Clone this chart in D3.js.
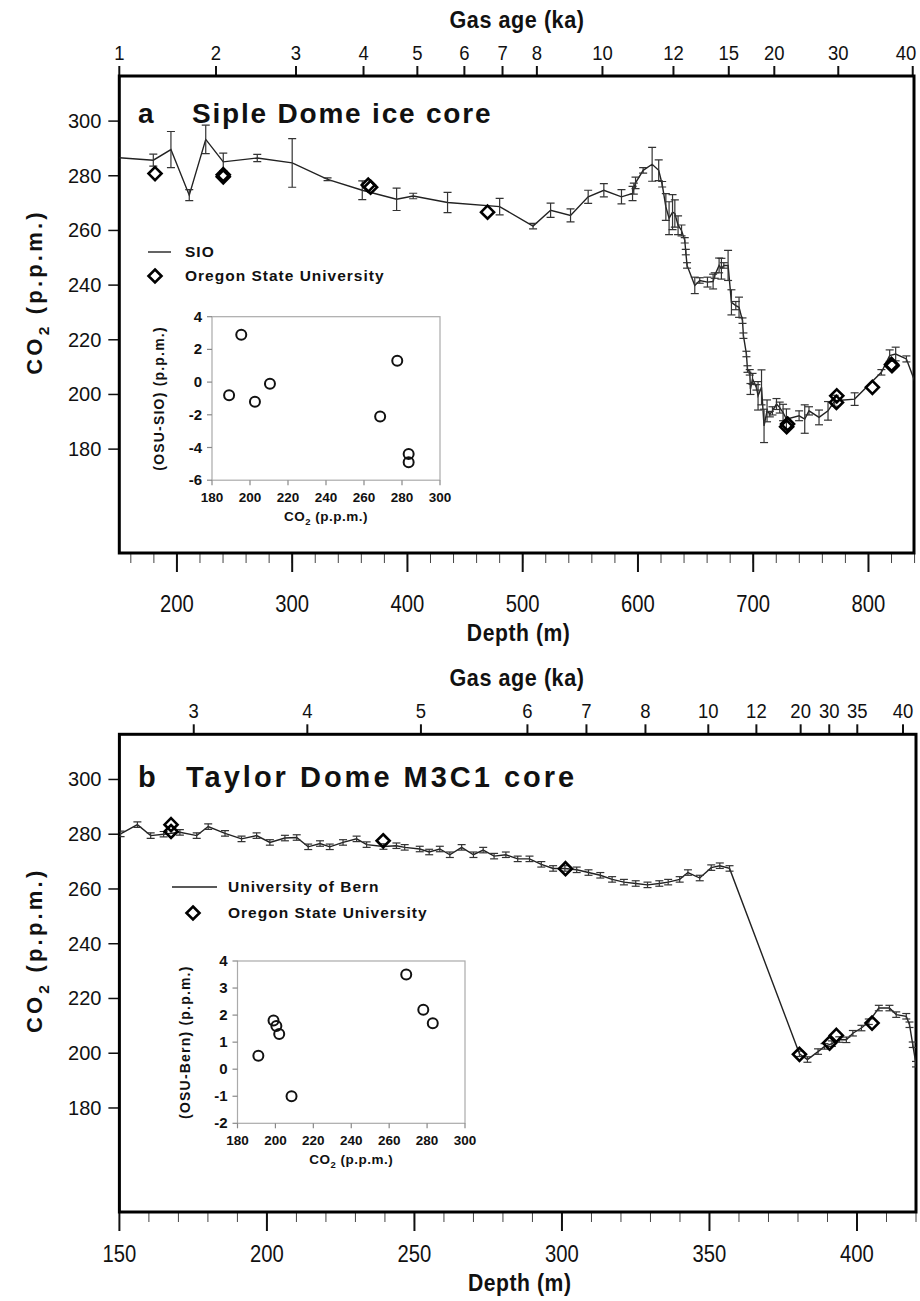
<!DOCTYPE html>
<html>
<head>
<meta charset="utf-8">
<script src="https://cdn.jsdelivr.net/npm/d3@7"></script>
<style>
  body { margin: 0; background: #fff; }
  svg text { font-family: "Liberation Sans", Arial, sans-serif; fill: #111; }
</style>
</head>
<body>
<svg id="fig" width="920" height="1301"></svg>
<script>
// CO2 ppm ticks shared by both panels
var co2Ticks = [180, 200, 220, 240, 260, 280, 300];

// ---- panel a : Siple Dome ----
var sipleDepthTicks = [200, 300, 400, 500, 600, 700, 800];
var sipleDepthMinor = d3.range(160, 841, 20);
var sipleAgeLabels = [1, 2, 3, 4, 5, 6, 7, 8, 10, 12, 15, 20, 30, 40];
var sipleAgeDepths = [150, 233.9, 303.3, 361.9, 408.6, 449.4, 482.5, 512.3, 569.2, 630.8, 678.8, 718.3, 773.8, 838.4];
// SIO record: depth (m), CO2 (ppm), error (ppm)
var sipleSio = [
  [150, 286.6, 0], [179.5, 285.7, 2.2], [194.8, 289.6, 6.6], [210.7, 272.9, 2], [225, 293.3, 5.2],
  [240.2, 285.1, 3.2], [269.7, 286.5, 1.3], [300, 284.7, 8.9], [330.7, 278.7, 0.5], [360.8, 274.7, 3.4],
  [390.6, 271.4, 4.1], [405, 272.6, 1], [434.8, 270.2, 3.7], [480, 268.7, 3], [509, 261.6, 1],
  [524.2, 267.4, 2.6], [541.5, 265.5, 2.4], [556.8, 272.3, 2.4], [570.4, 274.7, 2.4], [585.7, 272.3, 2.6],
  [595.3, 273.5, 2.6], [596.4, 275.3, 2], [597.9, 277.4, 2.1], [604.5, 282, 1], [612.3, 284.2, 6.2],
  [618, 282, 3.8], [621, 276.9, 1], [624.2, 268.6, 4.9], [627, 264.5, 6], [630, 266.7, 6.4],
  [632, 266.2, 5], [634.8, 261.9, 3.4], [637.8, 260, 2], [640.6, 256.4, 1], [641.5, 252.1, 1],
  [642.6, 247.2, 1], [649.3, 239.9, 3], [653.6, 241.7, 1], [660.3, 241.1, 1.8], [665.2, 241.3, 2.7],
  [666.6, 243.5, 1], [670.4, 247.2, 2.7], [672.4, 246, 3.8], [674.5, 247.2, 1], [678.2, 247.2, 5.5],
  [681.1, 233.7, 4.6], [684.9, 232.5, 1.5], [687.7, 231.9, 3.7], [690.7, 227, 1], [691.5, 221.5, 1],
  [694.1, 214.8, 1], [695, 209.3, 1.2], [697, 208.1, 1], [697.6, 202, 2], [699.4, 205.7, 2],
  [702.8, 202.6, 1], [704.2, 199.5, 5.2], [707.2, 202.6, 6.4], [709.4, 188.5, 6.1], [712, 194, 4],
  [714.4, 192.8, 1], [716.7, 194, 1.5], [720.2, 196.5, 2], [723, 195.2, 2], [725.9, 193.4, 3],
  [728.8, 191, 3.7], [739.8, 192.2, 1.8], [744.7, 191, 5.2], [748.4, 194, 1.5], [757.1, 191.6, 2.7],
  [764.9, 194, 3.4], [770.7, 197.7, 2], [788, 198.3, 2.3], [811.2, 208.1, 1], [818.4, 214.2, 2.1],
  [823.6, 214.8, 2.5], [832.9, 213, 1.1], [840, 205, 0]
];
// OSU measurements: depth, CO2
var sipleOsu = [
  [181, 280.8], [240.2, 280.4], [240.2, 279.6], [366, 276.6], [368, 275.8], [469.5, 266.7],
  [729, 188.2], [729.8, 189.2], [772.2, 197.1], [772.5, 199.5], [803.4, 202.6], [820.4, 210.5], [820, 211]
];
// inset: OSU-SIO difference vs CO2
var sipleDiffCo2 = [189, 195.4, 202.6, 210.5, 268.5, 277.5, 283.5, 283.5];
var sipleDiff = [-0.8, 2.9, -1.2, -0.1, -2.1, 1.3, -4.4, -4.9];

// ---- panel b : Taylor Dome ----
var taylorDepthTicks = [150, 200, 250, 300, 350, 400];
var taylorDepthMinor = d3.range(160, 421, 10);
var taylorAgeLabels = [3, 4, 5, 6, 7, 8, 10, 12, 20, 30, 35, 40];
var taylorAgeDepths = [175.2, 213.7, 252.2, 288.3, 308.3, 328.3, 349.6, 365.9, 380.9, 390.6, 400.1, 415.6];
// Bern record: depth, CO2 (error bars about 1 ppm)
var taylorBern = [
  [150.4, 280.1], [156.1, 283.5], [160.6, 279.5], [165, 280], [170.5, 280.7], [176.2, 279.5],
  [180.1, 282.8], [185.8, 280.3], [191.4, 278.3], [196.5, 279.5], [201, 277], [206.1, 278.6],
  [210.1, 278.8], [214, 275.4], [218, 276.6], [221.3, 275.4], [225.8, 277], [230.4, 278.3],
  [233.8, 276.2], [239.5, 275.5], [243.9, 275.8], [246.7, 275.2], [251.8, 274.6], [255, 273.5],
  [258.6, 274.6], [262, 272.5], [266, 275.2], [270, 272.5], [273.3, 274.2], [277, 272],
  [281, 272.5], [285, 271], [289, 271], [293, 269], [297, 267.5], [301, 267.5], [305, 267],
  [309, 266], [313, 265], [317, 263.5], [321, 262.5], [325, 262], [329, 261.5], [333, 262],
  [336, 262.5], [339.9, 263.5], [342.7, 266], [346.7, 264], [350.6, 267.8], [353.5, 268.5],
  [356.8, 267.5], [380.5, 199.8], [383.2, 197.7], [386.8, 200.6], [389, 202.5], [391.5, 203.5],
  [394, 205], [396.4, 204.9], [398.6, 207.3], [401.5, 209.2], [404, 211.5], [407.4, 216.5],
  [411, 216.5], [413.3, 214.1], [416.7, 213.5], [417.8, 210.4], [418.9, 203.1], [420, 196]
];
var taylorErr = 1;
var taylorOsu = [
  [167.5, 283.5], [167.5, 281], [239.4, 277.6], [301.2, 267.4], [380.5, 199.6],
  [390.7, 203.7], [393, 206.5], [405.1, 211]
];
var taylorDiffCo2 = [191, 199, 200.5, 202, 208.5, 269, 278, 283];
var taylorDiff = [0.5, 1.8, 1.6, 1.3, -1.0, 3.5, 2.2, 1.7];

var svg = d3.select("#fig");

function co2Label(g, x, y, size, rotate, spacing) {
  var t = g.append("text")
    .attr("transform", "translate(" + x + "," + y + ")" + (rotate ? " rotate(-90)" : ""))
    .attr("text-anchor", "middle")
    .style("font-weight", "bold")
    .style("letter-spacing", (spacing || 0) + "px")
    .style("font-size", size + "px");
  t.append("tspan").text("CO");
  t.append("tspan").text("2").style("font-size", (size * 0.7) + "px").attr("dy", size * 0.3);
  t.append("tspan").text(" (p.p.m.)").attr("dy", -size * 0.3);
  return t;
}

function diamond(g, x, y) {
  g.append("path")
    .attr("d", "M" + x + "," + (y - 6.5) + "L" + (x + 6.5) + "," + y + "L" + x + "," + (y + 6.5) + "L" + (x - 6.5) + "," + y + "Z")
    .attr("fill", "none").attr("stroke", "#000").attr("stroke-width", 2.6);
}

function drawPanel(p) {
  var g = svg.append("g");
  var x = d3.scaleLinear().domain(p.depthDomain).range([p.x0, p.x1]);
  var y = d3.scaleLinear().domain([142, 316.5]).range([p.y1, p.y0]);

  // clip for the data
  var clipId = "clip" + p.id;
  svg.append("clipPath").attr("id", clipId)
    .append("rect").attr("x", p.x0).attr("y", p.y0).attr("width", p.x1 - p.x0).attr("height", p.y1 - p.y0);

  // bottom depth axis
  g.selectAll(".minor").data(p.depthMinor).join("line")
    .attr("x1", d => x(d)).attr("x2", d => x(d))
    .attr("y1", p.y1).attr("y2", p.y1 + 10)
    .attr("stroke", "#444").attr("stroke-width", 1);
  g.selectAll(".major").data(p.depthTicks).join("line")
    .attr("x1", d => x(d)).attr("x2", d => x(d))
    .attr("y1", p.y1).attr("y2", p.y1 + 19)
    .attr("stroke", "#111").attr("stroke-width", 2);
  g.selectAll(".dlab").data(p.depthTicks).join("text")
    .attr("transform", d => "translate(" + x(d) + "," + (p.y1 + p.depthLabelDy) + ") scale(0.88,1)")
    .attr("text-anchor", "middle").style("font-size", "23px")
    .text(d => d);
  g.append("text")
    .attr("transform", "translate(" + ((p.x0 + p.x1) / 2 + 2) + "," + (p.y1 + p.depthTitleDy) + ") scale(0.92,1)")
    .attr("text-anchor", "middle").style("font-size", "23px").style("font-weight", "bold")
    .style("letter-spacing", "0.6px")
    .text("Depth (m)");

  // top gas age axis
  g.selectAll(".age").data(p.ageDepths).join("line")
    .attr("x1", d => x(d)).attr("x2", d => x(d))
    .attr("y1", p.y0).attr("y2", p.y0 - 10)
    .attr("stroke", "#111").attr("stroke-width", 2);
  g.selectAll(".alab").data(p.ageLabels).join("text")
    .attr("transform", (d, i) => "translate(" + Math.min(x(p.ageDepths[i]), 906) + "," + (p.y0 - 16) + ") scale(0.88,1)")
    .attr("text-anchor", "middle").style("font-size", "21px")
    .text(d => d);
  g.append("text")
    .attr("transform", "translate(517," + (p.y0 - 48) + ") scale(0.9,1)")
    .attr("text-anchor", "middle").style("font-size", "24px").style("font-weight", "bold")
    .style("letter-spacing", "0.6px")
    .text("Gas age (ka)");

  // left CO2 axis
  g.selectAll(".yt").data(co2Ticks).join("line")
    .attr("x1", p.x0 - 11).attr("x2", p.x0)
    .attr("y1", d => y(d)).attr("y2", d => y(d))
    .attr("stroke", "#111").attr("stroke-width", 1.5);
  g.selectAll(".ylab").data(co2Ticks).join("text")
    .attr("x", p.x0 - 18).attr("y", d => y(d) + 7)
    .attr("text-anchor", "end").style("font-size", "20px")
    .text(d => d);
  co2Label(g, 42, p.y0 + 216, 22, true, 3.2);

  // frame
  g.append("rect").attr("x", p.x0).attr("y", p.y0)
    .attr("width", p.x1 - p.x0).attr("height", p.y1 - p.y0)
    .attr("fill", "none").attr("stroke", "#000").attr("stroke-width", 3);

  // panel title
  g.append("text").attr("x", 138).attr("y", p.y0 + p.titleDy)
    .style("font-size", p.titleSize + "px").style("font-weight", "bold").text(p.letter);
  g.append("text").attr("x", p.titleX).attr("y", p.y0 + p.titleDy)
    .style("font-size", p.titleSize + "px").style("font-weight", "bold").style("letter-spacing", p.titleSpacing + "px")
    .text(p.title);

  // data
  var dg = g.append("g").attr("clip-path", "url(#" + clipId + ")");
  var line = d3.line().x(d => x(d[0])).y(d => y(d[1]));
  dg.append("path").attr("d", line(p.series))
    .attr("fill", "none").attr("stroke", "#222").attr("stroke-width", 1.4);
  var eb = dg.selectAll(".eb").data(p.series.filter(d => p.err(d) > 0)).join("g");
  eb.append("line")
    .attr("x1", d => x(d[0])).attr("x2", d => x(d[0]))
    .attr("y1", d => y(d[1] - p.err(d))).attr("y2", d => y(d[1] + p.err(d)))
    .attr("stroke", "#333").attr("stroke-width", 1.2);
  [-1, 1].forEach(function (s) {
    eb.append("line")
      .attr("x1", d => x(d[0]) - 4).attr("x2", d => x(d[0]) + 4)
      .attr("y1", d => y(d[1] + s * p.err(d))).attr("y2", d => y(d[1] + s * p.err(d)))
      .attr("stroke", "#333").attr("stroke-width", 1.2);
  });
  p.osu.forEach(function (d) { diamond(dg, x(d[0]), y(d[1])); });

  // legend
  var L = p.legend;
  g.append("line").attr("x1", L.lx0).attr("x2", L.lx1).attr("y1", L.ly).attr("y2", L.ly)
    .attr("stroke", "#222").attr("stroke-width", 1.4);
  g.append("text").attr("x", L.tx).attr("y", L.ly + 5)
    .style("font-size", "15.5px").style("font-weight", "bold").style("letter-spacing", "1px")
    .text(p.seriesName);
  diamond(g, L.dx, L.dy);
  g.append("text").attr("x", L.tx).attr("y", L.dy + 5)
    .style("font-size", "15.5px").style("font-weight", "bold").style("letter-spacing", "1px")
    .text("Oregon State University");

  // inset
  var I = p.inset;
  var ix = d3.scaleLinear().domain([180, 300]).range([I.x0, I.x1]);
  var iy = d3.scaleLinear().domain(I.yDomain).range([I.y1, I.y0]);
  var ig = g.append("g");
  ig.append("rect").attr("x", I.x0).attr("y", I.y0).attr("width", I.x1 - I.x0).attr("height", I.y1 - I.y0)
    .attr("fill", "none").attr("stroke", "#aaa").attr("stroke-width", 1.2);
  ig.selectAll(".ixt").data(d3.range(180, 301, 20)).join("line")
    .attr("x1", d => ix(d)).attr("x2", d => ix(d)).attr("y1", I.y1).attr("y2", I.y1 + 5)
    .attr("stroke", "#888").attr("stroke-width", 1.2);
  ig.selectAll(".ixl").data(d3.range(180, 301, 20)).join("text")
    .attr("x", d => ix(d)).attr("y", I.y1 + 22)
    .attr("text-anchor", "middle").style("font-size", "13.5px").style("font-weight", "bold")
    .text(d => d);
  ig.selectAll(".iyt").data(I.yTicks).join("line")
    .attr("x1", I.x0 - 5).attr("x2", I.x0).attr("y1", d => iy(d)).attr("y2", d => iy(d))
    .attr("stroke", "#888").attr("stroke-width", 1.2);
  ig.selectAll(".iyl").data(I.yTicks).join("text")
    .attr("x", I.x0 - 10).attr("y", d => iy(d) + 5)
    .attr("text-anchor", "end").style("font-size", "15px").style("font-weight", "bold")
    .text(d => d);
  co2Label(ig, (I.x0 + I.x1) / 2, I.y1 + 41, 13.5, false, 0.5);
  ig.append("text")
    .attr("transform", "translate(" + (I.x0 - 48) + "," + ((I.y0 + I.y1) / 2) + ") rotate(-90)")
    .attr("text-anchor", "middle").style("font-size", "14px").style("font-weight", "bold")
    .style("letter-spacing", "1.2px")
    .text(p.diffName + " (p.p.m.)");
  ig.selectAll(".pt").data(p.diffCo2).join("circle")
    .attr("cx", d => ix(d)).attr("cy", (d, i) => iy(p.diff[i])).attr("r", 5)
    .attr("fill", "none").attr("stroke", "#111").attr("stroke-width", 2);
}

drawPanel({
  id: "a", letter: "a", title: "Siple Dome ice core", titleX: 192,
  titleSize: 28, titleSpacing: 1.8, titleDy: 47,
  x0: 119.3, x1: 914, y0: 76, y1: 553,
  depthDomain: [150, 839.5], depthTicks: sipleDepthTicks, depthMinor: sipleDepthMinor,
  depthLabelDy: 59, depthTitleDy: 88,
  ageLabels: sipleAgeLabels, ageDepths: sipleAgeDepths,
  series: sipleSio, err: d => d[2], osu: sipleOsu, seriesName: "SIO",
  legend: { lx0: 148, lx1: 171, ly: 252, tx: 185, dx: 155, dy: 276 },
  inset: { x0: 212, x1: 440, y0: 316.7, y1: 480.2, yDomain: [-6, 4], yTicks: [-6, -4, -2, 0, 2, 4] },
  diffCo2: sipleDiffCo2, diff: sipleDiff, diffName: "(OSU-SIO)"
});

drawPanel({
  id: "b", letter: "b", title: "Taylor Dome M3C1 core", titleX: 186,
  titleSize: 29, titleSpacing: 3, titleDy: 53,
  x0: 119.4, x1: 916, y0: 734.3, y1: 1212,
  depthDomain: [150, 420], depthTicks: taylorDepthTicks, depthMinor: taylorDepthMinor,
  depthLabelDy: 50, depthTitleDy: 79,
  ageLabels: taylorAgeLabels, ageDepths: taylorAgeDepths,
  series: taylorBern, err: d => taylorErr, osu: taylorOsu, seriesName: "University of Bern",
  legend: { lx0: 172, lx1: 217, ly: 887, tx: 228, dx: 193, dy: 913 },
  inset: { x0: 237.5, x1: 465, y0: 961, y1: 1123.3, yDomain: [-2, 4], yTicks: [-2, -1, 0, 1, 2, 3, 4] },
  diffCo2: taylorDiffCo2, diff: taylorDiff, diffName: "(OSU-Bern)"
});
</script>
</body>
</html>
